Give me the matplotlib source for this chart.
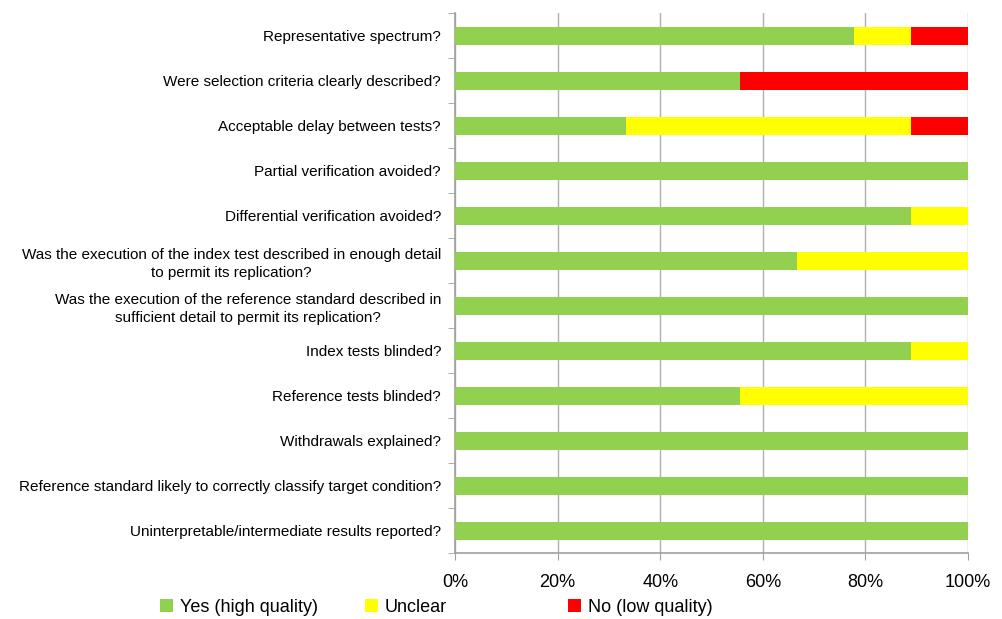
import matplotlib
matplotlib.use('Agg')
import matplotlib.pyplot as plt
from matplotlib.patches import Patch
import numpy as np

plt.rcParams['font.family'] = ['Liberation Sans Narrow', 'Liberation Sans', 'DejaVu Sans']

questions = [
    'Representative spectrum?',
    'Were selection criteria clearly described?',
    'Acceptable delay between tests?',
    'Partial verification avoided?',
    'Differential verification avoided?',
    'Was the execution of the index test described in enough detail\nto permit its replication?',
    'Was the execution of the reference standard described in\nsufficient detail to permit its replication?',
    'Index tests blinded?',
    'Reference tests blinded?',
    'Withdrawals explained?',
    'Reference standard likely to correctly classify target condition?',
    'Uninterpretable/intermediate results reported?',
]
yes = [77.8, 55.6, 33.3, 100, 88.9, 66.7, 100, 88.9, 55.6, 100, 100, 100]
unclear = [11.1, 0, 55.6, 0, 11.1, 33.3, 0, 11.1, 44.4, 0, 0, 0]
no = [11.1, 44.4, 11.1, 0, 0, 0, 0, 0, 0, 0, 0, 0]

series = ['Yes (high quality)', 'Unclear', 'No (low quality)']
colors = ['#92D050', '#FFFF00', '#FF0000']

fig = plt.figure(figsize=(10.03, 6.19), dpi=100)
ax = fig.add_axes([455/1003, 1-553/619, 513/1003, 540/619])

ys = np.arange(len(questions))
left = np.zeros(len(questions))
for vals, c in zip([yes, unclear, no], colors):
    vals = np.array(vals, dtype=float)
    ax.barh(ys, vals, left=left, height=0.4, color=c, zorder=3)
    left += vals

ax.set_xlim(0, 100)
ax.set_ylim(len(questions) - 0.5, -0.5)
ax.set_xticks(np.arange(0, 101, 20))
ax.set_xticklabels(['%d%%' % v for v in range(0, 101, 20)], fontsize=13)
ax.set_yticks(ys)
ax.set_yticklabels(questions, fontsize=11, multialignment='center', linespacing=1.4)
ax.set_yticks(np.arange(-0.5, len(questions)), minor=True)
ax.tick_params(axis='y', which='major', length=0, pad=10)
ax.tick_params(axis='y', which='minor', length=5, color='#A0A0A0', direction='out')
ax.tick_params(axis='x', length=5, color='#A0A0A0', pad=10)
ax.xaxis.grid(True, color='#B0B0B0', linewidth=1, zorder=0)
ax.set_axisbelow(True)
for s in ['top', 'right']:
    ax.spines[s].set_visible(False)
for s in ['left', 'bottom']:
    ax.spines[s].set_color('#A0A0A0')
    ax.spines[s].set_linewidth(1.2)

# legend entries spaced evenly like the original
leg_x = [160, 365, 568]
for x, name, c in zip(leg_x, series, colors):
    fig.legend([Patch(facecolor=c, edgecolor='none')], [name], loc='center left',
               bbox_to_anchor=(x/1003, 1-607/619), frameon=False, fontsize=13,
               handlelength=0.7, handleheight=0.7, handletextpad=0.4,
               borderpad=0, borderaxespad=0)

fig.savefig('out.png', dpi=100)
